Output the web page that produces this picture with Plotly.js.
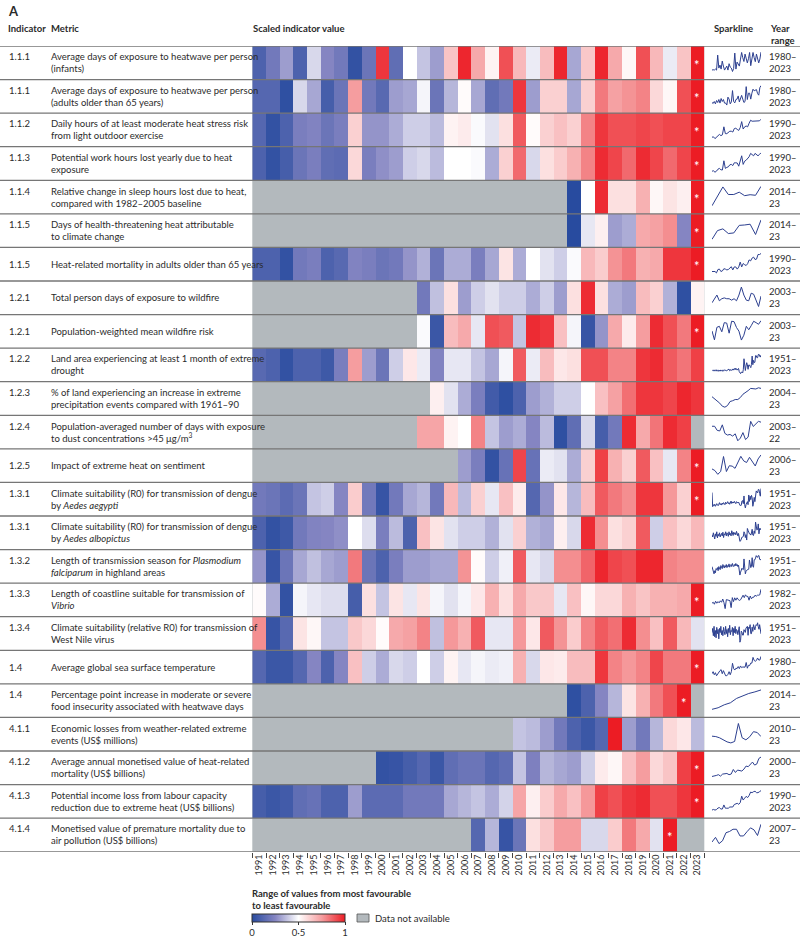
<!DOCTYPE html>
<html><head><meta charset="utf-8">
<script src="https://cdn.plot.ly/plotly-3.0.1.min.js"></script>
<style>html,body{margin:0;padding:0;background:#fff}#chart{width:800px;height:940px}</style>
</head><body><div id="chart"></div><script>
const years = [1991,1992,1993,1994,1995,1996,1997,1998,1999,2000,2001,2002,2003,2004,2005,2006,2007,2008,2009,2010,2011,2012,2013,2014,2015,2016,2017,2018,2019,2020,2021,2022,2023];
const indicators = ['1.1.1','1.1.1','1.1.2','1.1.3','1.1.4','1.1.5','1.1.5','1.2.1','1.2.1','1.2.2','1.2.3','1.2.4','1.2.5','1.3.1','1.3.1','1.3.2','1.3.3','1.3.4','1.4','1.4','4.1.1','4.1.2','4.1.3','4.1.4'];
const metrics = [
 'Average days of exposure to heatwave per person<br>(infants)',
 'Average days of exposure to heatwave per person<br>(adults older than 65 years)',
 'Daily hours of at least moderate heat stress risk<br>from light outdoor exercise',
 'Potential work hours lost yearly due to heat<br>exposure',
 'Relative change in sleep hours lost due to heat,<br>compared with 1982–2005 baseline',
 'Days of health-threatening heat attributable<br>to climate change',
 'Heat-related mortality in adults older than 65 years',
 'Total person days of exposure to wildfire',
 'Population-weighted mean wildfire risk',
 'Land area experiencing at least 1 month of extreme<br>drought',
 '% of land experiencing an increase in extreme<br>precipitation events compared with 1961–90',
 'Population-averaged number of days with exposure<br>to dust concentrations >45 μg/m<sup>3</sup>',
 'Impact of extreme heat on sentiment',
 'Climate suitability (R0) for transmission of dengue<br>by <i>Aedes aegypti</i>',
 'Climate suitability (R0) for transmission of dengue<br>by <i>Aedes albopictus</i>',
 'Length of transmission season for <i>Plasmodium</i><br><i>falciparum</i> in highland areas',
 'Length of coastline suitable for transmission of<br><i>Vibrio</i>',
 'Climate suitability (relative R0) for transmission of<br>West Nile virus',
 'Average global sea surface temperature',
 'Percentage point increase in moderate or severe<br>food insecurity associated with heatwave days',
 'Economic losses from weather-related extreme<br>events (US$ millions)',
 'Average annual monetised value of heat-related<br>mortality (US$ billions)',
 'Potential income loss from labour capacity<br>reduction due to extreme heat (US$ billions)',
 'Monetised value of premature mortality due to<br>air pollution (US$ billions)'
];
const yearRanges = ['1980–<br>2023','1980–<br>2023','1990–<br>2023','1990–<br>2023','2014–<br>23','2014–<br>23','1990–<br>2023','2003–<br>23','2003–<br>23','1951–<br>2023','2004–<br>23','2003–<br>22','2006–<br>23','1951–<br>2023','1951–<br>2023','1951–<br>2023','1982–<br>2023','1951–<br>2023','1980–<br>2023','2014–<br>23','2010–<br>23','2000–<br>23','1990–<br>2023','2007–<br>23'];
const sparkStart = [1980,1980,1990,1990,2014,2014,1990,2003,2003,1951,2004,2003,2006,1951,1951,1951,1982,1951,1980,2014,2010,2000,1990,2007];
const starYear = [2023,2023,2023,2023,2023,2023,2023,null,2023,null,null,null,2023,2023,null,null,2023,null,2023,2022,null,2023,2023,2021];

const na = n => Array(n).fill(null);
// scaled indicator values 1991–2023 (null = data not available)
const r01 = [0.1,0.2,0.3,0.1,0.42,0.25,0.2,0.03,0.18,0.95,0.15,0.5,0.38,0.3,0.65,0.98,0.72,0.53,0.9,0.68,0.46,0.67,0.98,0.32,0.64,0.98,0.72,0.52,0.9,0.68,0.46,0.65,1.0];
const r02 = [0.12,0.12,0.02,0.42,0.32,0.08,0.18,0.75,0.2,0.13,0.3,0.32,0.48,0.18,0.35,0.51,0.32,0.15,0.2,0.95,0.3,0.62,0.62,0.32,0.62,0.82,0.74,0.77,0.8,0.6,0.52,0.9,1.0];
const r03 = [0.12,0.03,0.1,0.22,0.24,0.18,0.22,0.62,0.28,0.28,0.33,0.4,0.4,0.36,0.53,0.55,0.49,0.44,0.58,0.88,0.51,0.62,0.66,0.62,0.8,0.95,0.9,0.9,0.92,0.9,0.92,0.92,1.0];
const r04 = [0.1,0.03,0.08,0.18,0.22,0.15,0.14,0.6,0.22,0.27,0.3,0.4,0.42,0.36,0.5,0.5,0.49,0.33,0.62,0.85,0.42,0.58,0.63,0.7,0.8,0.97,0.92,0.85,0.97,0.92,0.85,0.92,1.0];
const r05 = na(23).concat([0.0,0.5,0.97,0.58,0.58,0.7,0.52,0.57,0.54,1.0]);
const r06 = na(23).concat([0.0,0.45,0.54,0.3,0.33,0.72,0.74,0.78,0.25,1.0]);
const r07 = [0.1,0.1,0.03,0.2,0.22,0.1,0.13,0.24,0.22,0.18,0.2,0.28,0.34,0.18,0.33,0.33,0.22,0.32,0.57,0.33,0.5,0.44,0.4,0.49,0.68,0.63,0.77,0.82,0.7,0.72,0.95,0.95,1.0];
const r08 = na(12).concat([0.2,0.37,0.58,0.3,0.4,0.44,0.4,0.4,0.33,0.4,0.3,0.58,0.97,0.58,0.33,0.3,0.67,0.62,0.34,0.02,0.53]);
const r09 = na(12).concat([0.49,0.05,0.67,0.72,0.45,0.9,0.88,0.38,0.97,0.95,0.66,0.48,0.04,0.28,0.72,0.55,0.75,0.97,0.9,0.82,1.0]);
const r10 = [0.13,0.1,0.03,0.1,0.1,0.06,0.22,0.75,0.3,0.18,0.4,0.56,0.46,0.24,0.45,0.45,0.38,0.32,0.48,0.88,0.46,0.67,0.56,0.58,0.9,0.9,0.8,0.8,0.95,0.97,0.88,0.83,0.93];
const r11 = na(13).concat([0.54,0.44,0.33,0.22,0.07,0.02,0.1,0.3,0.34,0.4,0.4,0.5,0.66,0.74,0.84,0.95,0.95,0.92,0.98,0.95]);
const r12 = na(12).concat([0.73,0.73,0.53,0.5,0.8,0.38,0.3,0.33,0.25,0.36,0.02,0.15,0.42,0.08,0.2,0.97,0.72,0.83,0.97,0.93], [null]);
const r13 = na(15).concat([0.3,0.22,0.03,0.17,0.92,0.17,0.46,0.44,0.33,0.62,0.93,0.7,0.62,0.88,0.66,0.45,0.8,1.0]);
const r14 = [0.2,0.18,0.14,0.18,0.38,0.4,0.25,0.63,0.2,0.04,0.2,0.32,0.35,0.2,0.68,0.36,0.62,0.45,0.66,0.55,0.12,0.28,0.56,0.35,0.67,0.88,0.82,0.78,0.95,0.95,0.76,0.62,1.0];
const r15 = [0.1,0.03,0.06,0.2,0.24,0.25,0.27,0.5,0.43,0.22,0.36,0.1,0.66,0.57,0.44,0.4,0.4,0.34,0.44,0.62,0.34,0.32,0.54,0.42,0.97,0.78,0.58,0.62,0.88,0.4,0.66,0.6,0.68];
const r16 = [0.28,0.04,0.18,0.32,0.37,0.32,0.3,0.82,0.18,0.1,0.22,0.3,0.3,0.32,0.32,0.77,0.51,0.4,0.47,0.88,0.45,0.42,0.78,0.78,0.86,0.98,0.92,0.9,0.98,0.98,0.8,0.78,0.78];
const r17 = [0.51,0.33,0.03,0.48,0.45,0.43,0.43,0.08,0.58,0.38,0.57,0.45,0.57,0.48,0.44,0.48,0.56,0.7,0.58,0.72,0.64,0.64,0.45,0.66,0.52,0.6,0.6,0.7,0.65,0.7,0.7,0.72,1.0];
const r18 = [0.78,0.04,0.13,0.57,0.52,0.38,0.38,0.64,0.6,0.51,0.72,0.74,0.8,0.37,0.76,0.7,0.88,0.45,0.45,0.76,0.56,0.88,0.77,0.63,0.8,0.88,0.84,0.97,0.78,0.66,0.88,0.68,0.44];
const r19 = [0.12,0.05,0.05,0.12,0.25,0.1,0.25,0.66,0.4,0.33,0.42,0.4,0.5,0.4,0.53,0.45,0.48,0.46,0.47,0.7,0.42,0.56,0.55,0.67,0.67,0.95,0.8,0.76,0.8,0.92,0.82,0.82,1.0];
const r20 = na(23).concat([0.02,0.1,0.25,0.35,0.57,0.7,0.82,0.9,1.0], [null]);
const r21 = na(19).concat([0.38,0.36,0.3,0.2,0.1,0.05,0.12,1.0,0.3,0.2,0.35,0.6,0.56,0.36]);
const r22 = na(9).concat([0.03,0.04,0.08,0.12,0.05,0.15,0.18,0.18,0.12,0.15,0.38,0.23,0.35,0.32,0.3,0.4,0.55,0.52,0.66,0.75,0.6,0.65,0.93,1.0]);
const r23 = [0.08,0.05,0.07,0.15,0.17,0.1,0.1,0.3,0.14,0.14,0.14,0.2,0.2,0.2,0.32,0.35,0.38,0.33,0.41,0.73,0.54,0.63,0.72,0.66,0.76,0.93,0.9,0.95,0.97,0.9,0.9,0.95,1.0];
const r24 = na(16).concat([0.12,0.35,0.04,0.18,0.58,0.64,0.75,0.75,0.42,0.42,0.63,0.82,0.72,0.44,1.0], [null,null]);
const rows = [r01,r02,r03,r04,r05,r06,r07,r08,r09,r10,r11,r12,r13,r14,r15,r16,r17,r18,r19,r20,r21,r22,r23,r24];

// sparkline values before 1991 (scaled estimates)
const pre01 = [0.1,0.12,0.1,0.15,0.1,0.85,0.2,0.35,0.15,0.55,0.3];
const pre02 = [0.15,0.1,0.2,0.08,0.25,0.15,0.3,0.12,0.35,0.2,0.3];
const pre03 = [0.1];
const pre04 = [0.08];
const pre07 = [0.1];
const pre10 = [0.22,0.18,0.2,0.15,0.2,0.17,0.22,0.16,0.19,0.14,0.2,0.18,0.15,0.21,0.17,0.2,0.14,0.19,0.22,0.17,0.2,0.16,0.18,0.21,0.19,0.25,0.17,0.2,0.23,0.18,0.21,0.26,0.2,0.24,0.3,0.22,0.27,0.2,0.25,0.28];
const pre14 = [0.8,0.1,0.2,0.15,0.22,0.12,0.18,0.25,0.2,0.15,0.22,0.3,0.2,0.25,0.18,0.28,0.22,0.3,0.25,0.2,0.32,0.24,0.28,0.35,0.25,0.3,0.22,0.32,0.38,0.26,0.3,0.34,0.28,0.36,0.3,0.25,0.35,0.32,0.28,0.33];
const pre15 = [0.35,0.25,0.45,0.3,0.15,0.4,0.28,0.5,0.2,0.38,0.3,0.45,0.25,0.35,0.42,0.3,0.48,0.22,0.4,0.35,0.5,0.3,0.45,0.38,0.28,0.5,0.35,0.42,0.3,0.55,0.4,0.32,0.48,0.38,0.45,0.35,0.52,0.4,0.3,0.42];
const pre16 = [0.45,0.3,0.2,0.1,0.25,0.15,0.35,0.3,0.4,0.25,0.45,0.35,0.3,0.5,0.4,0.35,0.55,0.45,0.38,0.5,0.42,0.55,0.4,0.5,0.45,0.58,0.42,0.5,0.55,0.45,0.6,0.5,0.45,0.55,0.48,0.6,0.5,0.55,0.45,0.52];
const pre17 = [0.3,0.35,0.25,0.4,0.3,0.38,0.32,0.42,0.35];
const pre18 = [0.5,0.7,0.35,0.8,0.3,0.6,0.25,0.75,0.45,0.65,0.2,0.7,0.5,0.8,0.4,0.6,0.35,0.75,0.55,0.4,0.8,0.45,0.65,0.3,0.7,0.5,0.85,0.4,0.6,0.55,0.75,0.35,0.7,0.5,0.8,0.45,0.65,0.6,0.4,0.7];
const pre19 = [0.15,0.25,0.1,0.2,0.05,0.15,0.2,0.3,0.35,0.15,0.3];
const pre23 = [0.05];
const prefixes = [pre01,pre02,pre03,pre04,[],[],pre07,[],[],pre10,[],[],[],pre14,pre15,pre16,pre17,pre18,pre19,[],[],[],pre23,[]];

// ---------- layout geometry (pixels) ----------
const W = 800, H = 940;
const TOP = 46, BOT = 851.7, N = rows.length, RH = (BOT - TOP) / N;
const HX0 = 252.3, HX1 = 704.3;
const SX0 = 712, SX1 = 761;
const px = v => v / W, py = v => 1 - v / H;
const FONT = 'Lato, "Noto Sans", sans-serif';
const TXT = '#2b2b2b';
const GRAY = '#b3b9bd';

const colorscale = [[0,'#284b9f'],[0.25,'#8585c2'],[0.5,'#ffffff'],[0.75,'#f59d9f'],[1,'#ec1c24']];

const traces = [{
  type: 'heatmap', z: rows, x: years, y: rows.map((_, i) => i),
  zmin: 0, zmax: 1, colorscale: colorscale, hoverinfo: 'skip', xaxis: 'x', yaxis: 'y',
  colorbar: {
    orientation: 'h', x: px(252), xanchor: 'left', y: py(914), yanchor: 'top',
    len: 93, lenmode: 'pixels', thickness: 8, xpad: 0, ypad: 0,
    outlinewidth: 1, outlinecolor: '#333',
    tickvals: [0, 0.5, 1], ticktext: ['0', '0·5', '1'],
    ticks: 'outside', ticklen: 3, tickcolor: '#333',
    tickfont: {size: 9.5, color: TXT, family: FONT}
  }
}];

const layout = {
  width: W, height: H, margin: {l: 0, r: 0, t: 0, b: 0},
  paper_bgcolor: '#fff', plot_bgcolor: 'rgba(0,0,0,0)',
  font: {family: FONT, color: TXT, size: 9.5},
  showlegend: false,
  xaxis: {
    domain: [px(HX0), px(HX1)], range: [1990.5, 2023.5], anchor: 'y',
    tickmode: 'array', tickvals: years, ticktext: years.map(String),
    tickangle: -90, ticks: '', showgrid: false, zeroline: false, showline: false,
    tickfont: {size: 9, color: TXT}, fixedrange: true,
    minor: {tickmode: 'array', tickvals: years.map(y => y - 0.5).concat([2023.5]),
            ticks: 'outside', ticklen: 5, tickcolor: '#444', tickwidth: 1, showgrid: false}
  },
  yaxis: {
    domain: [py(BOT), py(TOP)], range: [N - 0.5, -0.5], anchor: 'x',
    showticklabels: false, ticks: '', showgrid: false, zeroline: false, fixedrange: true
  },
  shapes: [
    // "data not available" background behind the heatmap cells
    {type: 'rect', xref: 'x domain', yref: 'y domain', x0: 0, x1: 1, y0: 0, y1: 1,
     fillcolor: GRAY, line: {width: 0}, layer: 'below'}
  ],
  annotations: []
};

// sparklines, each on its own small axes
rows.forEach((row, i) => {
  const k = i + 2;
  const xs = [], ys = [];
  prefixes[i].forEach((v, j) => { xs.push(sparkStart[i] + j); ys.push(v); });
  row.forEach((v, j) => { if (v !== null && years[j] >= sparkStart[i]) { xs.push(years[j]); ys.push(v); } });
  traces.push({type: 'scatter', mode: 'lines', x: xs, y: ys, xaxis: 'x' + k, yaxis: 'y' + k,
    line: {color: '#2c3f8f', width: 1}, hoverinfo: 'skip'});
  const top = TOP + i * RH;
  layout['xaxis' + k] = {domain: [px(SX0), px(SX1)], anchor: 'y' + k, visible: false, fixedrange: true};
  layout['yaxis' + k] = {domain: [py(top + RH - 7), py(top + 5)], anchor: 'x' + k, visible: false, fixedrange: true};
});

// row separator lines
for (let i = 0; i <= N; i++) {
  layout.shapes.push({type: 'line', xref: 'paper', yref: 'y', x0: 0, x1: 1, y0: i - 0.5, y1: i - 0.5,
    line: {color: '#767676', width: 1.3}});
}

// row texts
rows.forEach((row, i) => {
  const nLines = metrics[i].split('<br>').length;
  const ind = indicators[i] + (nLines > 1 ? '<br>&nbsp;' : '');
  layout.annotations.push({xref: 'paper', yref: 'y', x: px(7), y: i, xanchor: 'left', yanchor: 'middle',
    text: ind, showarrow: false, align: 'left', font: {size: 9.5, color: TXT}});
  layout.annotations.push({xref: 'paper', yref: 'y', x: px(49), y: i, xanchor: 'left', yanchor: 'middle',
    text: metrics[i], showarrow: false, align: 'left', font: {size: 9.5, color: TXT}});
  layout.annotations.push({xref: 'paper', yref: 'y', x: px(767), y: i, xanchor: 'left', yanchor: 'middle',
    text: yearRanges[i], showarrow: false, align: 'left', font: {size: 9.5, color: TXT}});
  if (starYear[i] !== null) {
    layout.annotations.push({xref: 'x', yref: 'y', x: starYear[i], y: i, xanchor: 'center', yanchor: 'middle',
      text: '*', showarrow: false, yshift: -2, font: {size: 13, color: '#ffffff'}});
  }
});

// headers
const hdr = (t, x, y, size) => layout.annotations.push({xref: 'paper', yref: 'paper', x: px(x), y: py(y),
  xanchor: 'left', yanchor: 'middle', text: t, showarrow: false, align: 'left', font: {size: size || 9.5, color: TXT}});
hdr('<b>A</b>', 6, 11, 13);
hdr('<b>Indicator</b>', 6, 28);
hdr('<b>Metric</b>', 49, 28);
hdr('<b>Scaled indicator value</b>', 251, 28);
hdr('<b>Sparkline</b>', 712, 28);
layout.annotations.push({xref: 'paper', yref: 'paper', x: px(768), y: py(21), xanchor: 'left', yanchor: 'top',
  text: '<b>Year<br>range</b>', showarrow: false, align: 'left', font: {size: 9.5, color: TXT}});

// legend
layout.annotations.push({xref: 'paper', yref: 'paper', x: px(250), y: py(886), xanchor: 'left', yanchor: 'top',
  text: '<b>Range of values from most favourable<br>to least favourable</b>', showarrow: false, align: 'left',
  font: {size: 9.5, color: TXT}});
layout.shapes.push({type: 'rect', xref: 'paper', yref: 'paper', x0: px(357), x1: px(369), y0: py(922), y1: py(914),
  fillcolor: GRAY, line: {color: '#555', width: 0.8}});
hdr('Data not available', 373, 918);

Plotly.newPlot('chart', traces, layout, {displayModeBar: false, staticPlot: true});
</script></body></html>
